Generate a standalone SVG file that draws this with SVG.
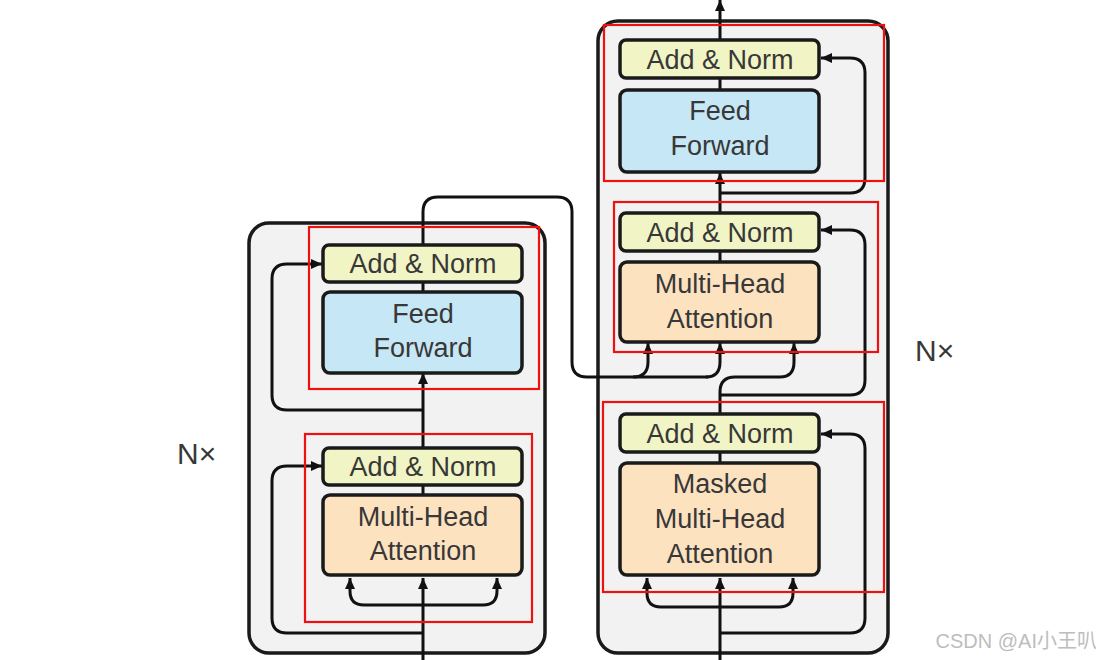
<svg xmlns="http://www.w3.org/2000/svg" width="1101" height="660" viewBox="0 0 1101 660">
<defs>
<marker id="ah" markerUnits="userSpaceOnUse" markerWidth="11" markerHeight="10" refX="11" refY="5" orient="auto">
<path d="M0,0 L11,5 L0,10 z" fill="#111"/>
</marker>
<style>
.outer{fill:#f2f2f2;stroke:#1a1a1a;stroke-width:3.5}
.an{fill:#f1f4c4;stroke:#1a1a1a;stroke-width:3.5}
.ff{fill:#c6e7f5;stroke:#1a1a1a;stroke-width:3.5}
.mha{fill:#fde2c0;stroke:#1a1a1a;stroke-width:3.5}
.red{fill:none;stroke:#ee1111;stroke-width:2.2}
.t{font-family:"Liberation Sans",Arial,sans-serif;font-size:27px;fill:#383838;text-anchor:middle}
.nx{font-family:"Liberation Sans",Arial,sans-serif;font-size:30px;fill:#383838}
.c{fill:none;stroke:#111;stroke-width:3}
.ca{fill:none;stroke:#111;stroke-width:3;marker-end:url(#ah)}
</style>
</defs>
<rect width="1101" height="660" fill="#ffffff"/>
<g id="encoder-stack"><rect class="outer" x="249" y="223" width="296" height="430" rx="20"/></g>
<g id="decoder-stack"><rect class="outer" x="598" y="21" width="290" height="632" rx="20"/></g>
<g id="connectors">
<path class="ca" d="M423,660 L423,578"/>
<path class="ca" d="M423,605 L364,605 Q350,605 350,591 L350,578"/>
<path class="ca" d="M423,605 L483,605 Q497,605 497,591 L497,578"/>
<path class="ca" d="M423,633 L287,633 Q272,633 272,618 L272,481 Q272,466 287,466 L322,466"/>
<path class="c" d="M423,495 L423,485"/>
<path class="ca" d="M423,448 L423,373"/>
<path class="ca" d="M423,410 L287,410 Q272,410 272,395 L272,279 Q272,264 287,264 L322,264"/>
<path class="c" d="M423,292 L423,282"/>
<path class="c" d="M423,245 L423,212 Q423,197 438,197 L557,197 Q572,197 572,212 L572,362 Q572,377 587,377 L708,377"/>
<path class="ca" d="M633,377 Q648,377 648,362 L648,343"/>
<path class="ca" d="M706,377 Q720,377 720,362 L720,343"/>
<path class="ca" d="M720,660 L720,578"/>
<path class="ca" d="M720,607 L661,607 Q647,607 647,593 L647,578"/>
<path class="ca" d="M720,607 L779,607 Q793,607 793,593 L793,578"/>
<path class="ca" d="M720,633 L850,633 Q865,633 865,618 L865,449 Q865,434 850,434 L821,434"/>
<path class="c" d="M720,463 L720,452"/>
<path class="ca" d="M720,414 L720,392 Q720,377 735,377 L780,377 Q794,377 794,362 L794,343"/>
<path class="ca" d="M720,395 L850,395 Q865,395 865,380 L865,245 Q865,230 850,230 L821,230"/>
<path class="c" d="M720,262 L720,251"/>
<path class="ca" d="M720,213 L720,173"/>
<path class="ca" d="M720,193 L850,193 Q865,193 865,178 L865,73 Q865,58 850,58 L821,58"/>
<path class="c" d="M720,90 L720,78"/>
<path class="ca" d="M720,40 L720,0"/>
</g>
<g id="enc-ff-norm"><rect class="an" x="323" y="245" width="199" height="37" rx="6"/><text class="t" x="423" y="273">Add &amp; Norm</text></g>
<g id="enc-ff"><rect class="ff" x="323" y="292" width="199" height="81" rx="7"/><text class="t" x="423" y="323">Feed</text><text class="t" x="423" y="357">Forward</text></g>
<g id="enc-mha-norm"><rect class="an" x="323" y="448" width="199" height="37" rx="6"/><text class="t" x="423" y="476">Add &amp; Norm</text></g>
<g id="enc-mha"><rect class="mha" x="323" y="495" width="199" height="80" rx="7"/><text class="t" x="423" y="526">Multi-Head</text><text class="t" x="423" y="560">Attention</text></g>
<g id="dec-ff-norm"><rect class="an" x="620" y="40" width="199" height="38" rx="6"/><text class="t" x="720" y="69">Add &amp; Norm</text></g>
<g id="dec-ff"><rect class="ff" x="620" y="90" width="199" height="82" rx="7"/><text class="t" x="720" y="120">Feed</text><text class="t" x="720" y="155">Forward</text></g>
<g id="dec-mha-norm"><rect class="an" x="620" y="213" width="199" height="38" rx="6"/><text class="t" x="720" y="242">Add &amp; Norm</text></g>
<g id="dec-mha"><rect class="mha" x="620" y="262" width="199" height="80" rx="7"/><text class="t" x="720" y="293">Multi-Head</text><text class="t" x="720" y="328">Attention</text></g>
<g id="dec-mmha-norm"><rect class="an" x="620" y="414" width="199" height="38" rx="6"/><text class="t" x="720" y="443">Add &amp; Norm</text></g>
<g id="dec-mmha"><rect class="mha" x="620" y="463" width="199" height="112" rx="7"/><text class="t" x="720" y="493">Masked</text><text class="t" x="720" y="528">Multi-Head</text><text class="t" x="720" y="563">Attention</text></g>
<g id="labels">
<text class="nx" x="177" y="464">N×</text>
<text class="nx" x="915" y="361">N×</text>
</g>
<g id="highlights">
<rect class="red" x="309" y="227" width="230" height="162"/>
<rect class="red" x="305" y="434" width="227" height="188"/>
<rect class="red" x="604" y="25" width="280" height="156"/>
<rect class="red" x="614" y="202" width="264" height="150"/>
<rect class="red" x="603" y="402" width="281" height="190"/>
</g>
<text x="1097" y="648" text-anchor="end" font-family="Liberation Sans, Noto Sans CJK SC, sans-serif" font-size="20" fill="#bdbdbd">CSDN @AI小王叭</text>
</svg>
